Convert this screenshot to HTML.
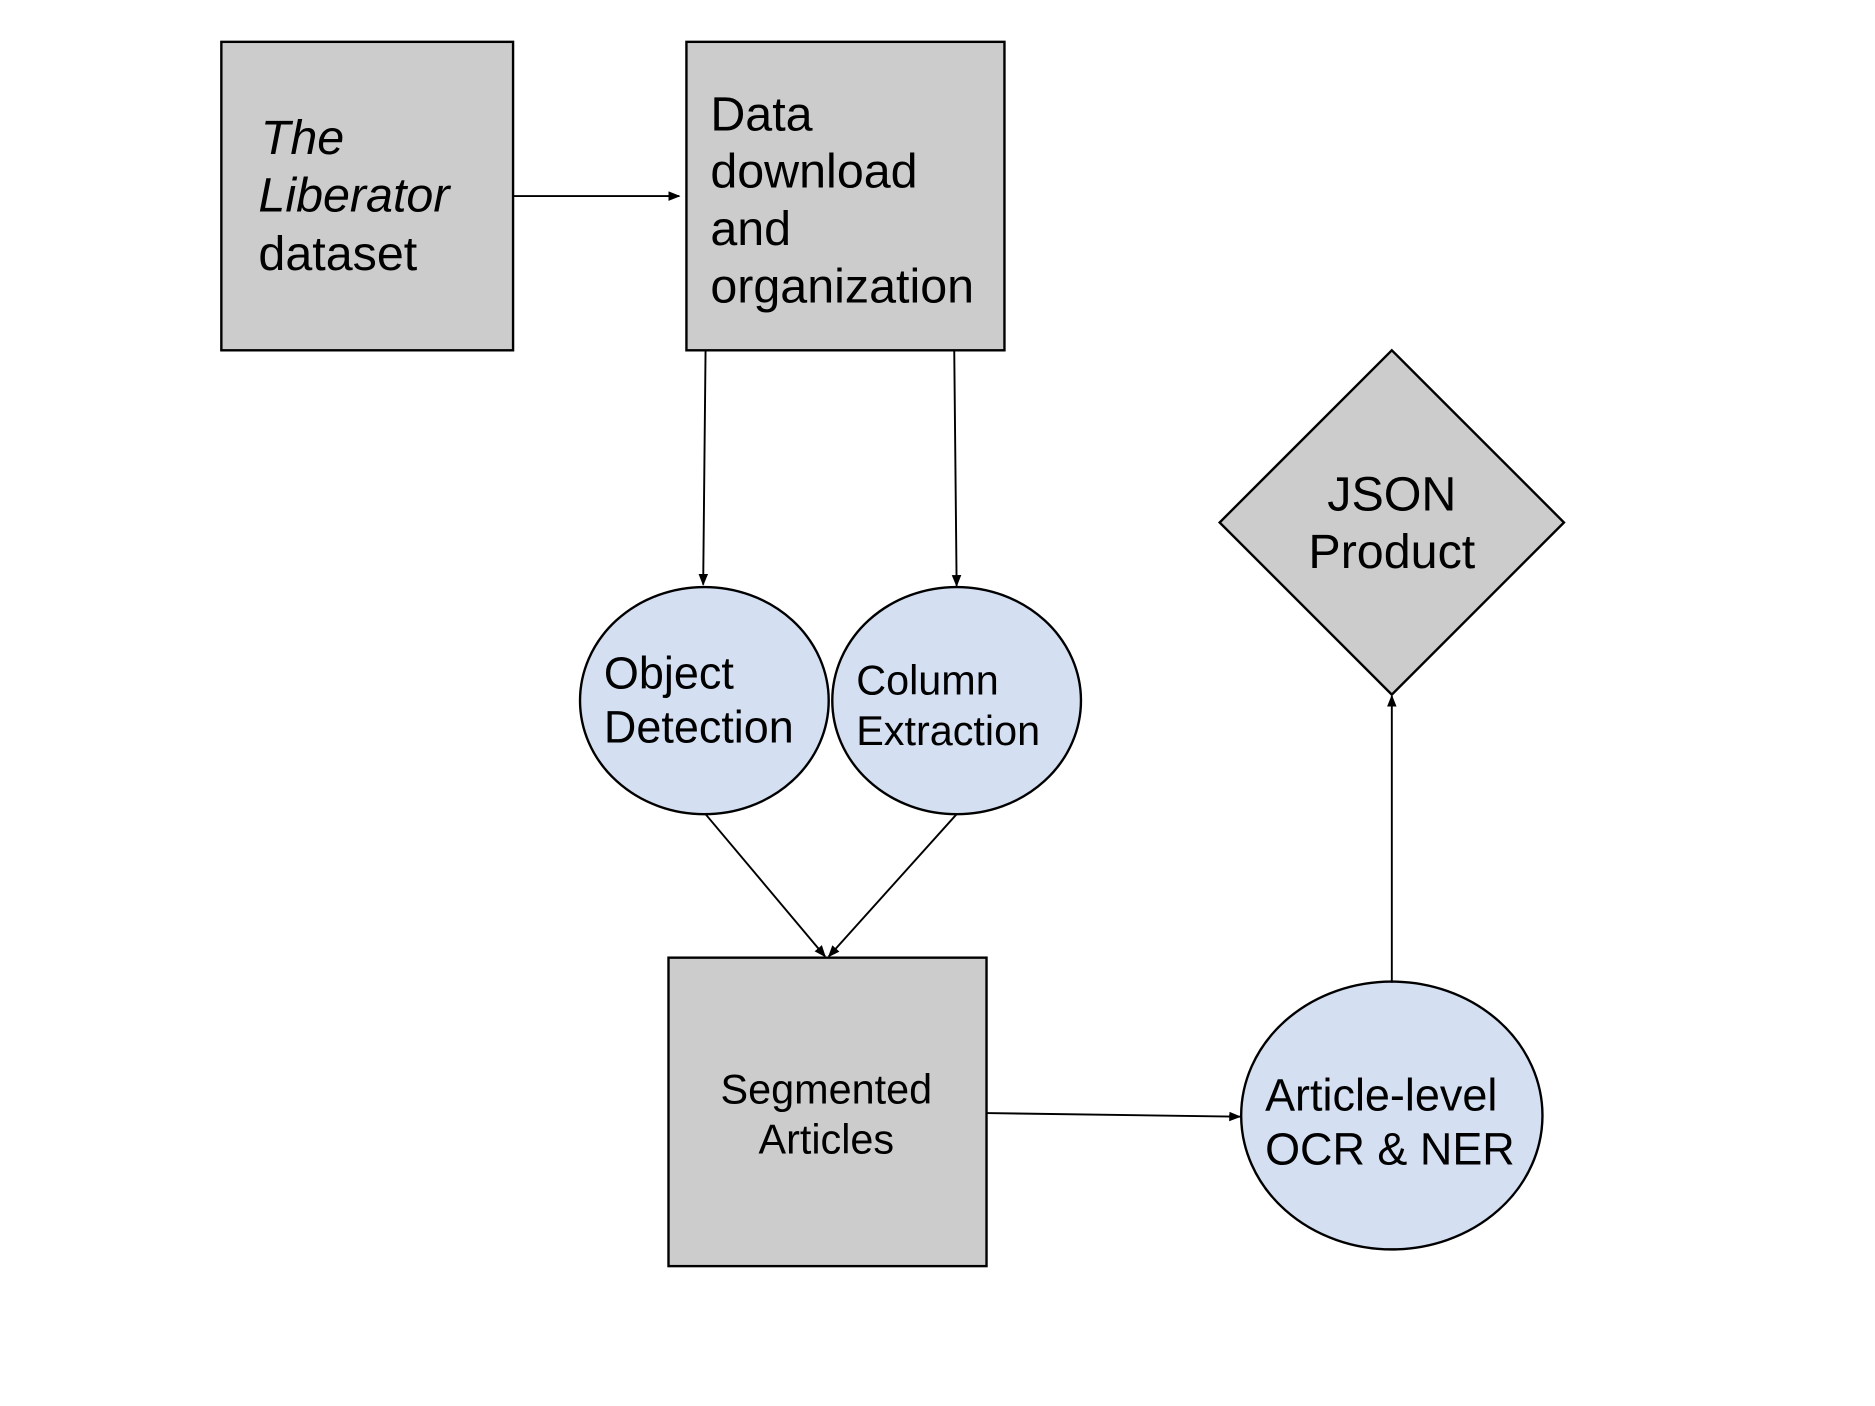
<!DOCTYPE html>
<html><head><meta charset="utf-8"><style>
html,body{margin:0;padding:0;background:#fff;}
svg{display:block;}
text{font-family:"Liberation Sans",Arial,sans-serif;fill:#000;}
</style></head><body>
<svg width="1875" height="1406" viewBox="0 0 1568 1176" xmlns="http://www.w3.org/2000/svg">
<defs>
<marker id="a" markerWidth="10" markerHeight="8" refX="9" refY="4" orient="auto" markerUnits="userSpaceOnUse">
<path d="M0,0 L10,4 L0,8 z" fill="#000"/>
</marker>
</defs>
<g stroke="#000" stroke-width="2">
<rect x="185" y="35" width="244" height="258" fill="#cccccc"/>
<rect x="574" y="35" width="266" height="258" fill="#cccccc"/>
<rect x="559" y="801" width="266" height="258" fill="#cccccc"/>
<ellipse cx="589" cy="586" rx="104" ry="95" fill="#d4e0f2"/>
<ellipse cx="800" cy="586" rx="104" ry="95" fill="#d4e0f2"/>
<ellipse cx="1164" cy="933" rx="126" ry="112" fill="#d4e0f2"/>
<polygon points="1164,293 1308,437 1164,581 1020,437" fill="#cccccc"/>
</g>
<g stroke="#000" stroke-width="1.6" fill="none" marker-end="url(#a)">
<line x1="429" y1="164" x2="568" y2="164"/>
<line x1="590" y1="293" x2="588" y2="489"/>
<line x1="798" y1="293" x2="800" y2="490"/>
<line x1="590" y1="681" x2="690" y2="800"/>
<line x1="800" y1="681" x2="693" y2="800"/>
<line x1="825" y1="931" x2="1037" y2="934"/>
<line x1="1164" y1="822" x2="1164" y2="582"/>
</g>
<g font-size="40.5">
<text x="218" y="129" font-style="italic">The</text>
<text x="216" y="177" font-style="italic">Liberator</text>
<text x="216" y="226">dataset</text>
<text x="594" y="109">Data</text>
<text x="594" y="157">download</text>
<text x="594" y="205">and</text>
<text x="594" y="253">organization</text>
<text x="1164" y="427" text-anchor="middle">JSON</text>
<text x="1164" y="475" text-anchor="middle">Product</text>
</g>
<g font-size="37.6">
<text x="505" y="576">Object</text>
<text x="505" y="621">Detection</text>
<text x="1058" y="929">Article-level</text>
<text x="1058" y="974">OCR &amp; NER</text>
</g>
<g font-size="34.6">
<text x="716" y="581">Column</text>
<text x="716" y="623">Extraction</text>
<text x="691" y="923" text-anchor="middle">Segmented</text>
<text x="691" y="965" text-anchor="middle">Articles</text>
</g>
</svg>
</body></html>
